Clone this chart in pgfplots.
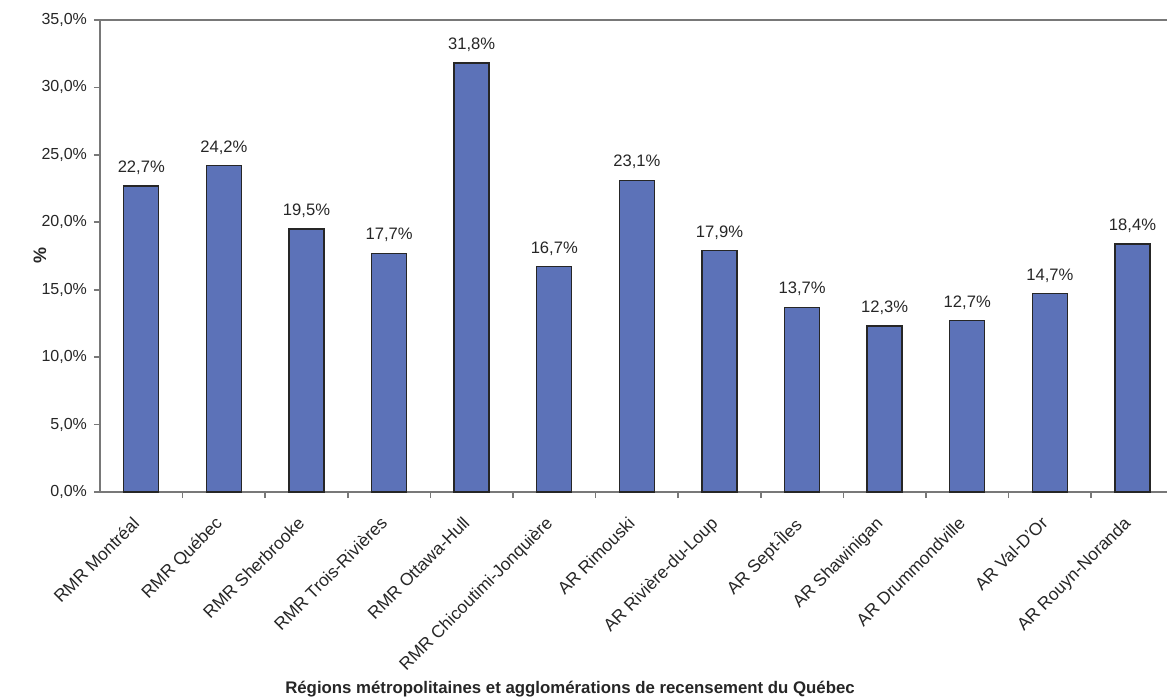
\documentclass[border=0pt]{standalone}
\usepackage{pgfplots}
\pgfplotsset{compat=1.18}
\usepackage{fontspec}
\setmainfont{Liberation Sans}
\definecolor{barblue}{RGB}{92,114,184}
\definecolor{axisgray}{RGB}{120,120,120}
\begin{document}
\begin{tikzpicture}
\useasboundingbox (-50pt,-102pt) rectangle (533.5pt,246pt);
\begin{axis}[
  at={(0,0)}, anchor=south west,
  scale only axis, width=533.5pt, height=236pt,
  xmin=-0.5, xmax=12.418, ymin=0, ymax=35,
  axis lines*=left,
  axis line style={axisgray, line width=0.8pt},
  tick align=outside,
  /pgf/number format/assume math mode=true,
  ytick={0,5,...,35},
  yticklabel={\pgfmathprintnumber[fixed,fixed zerofill,precision=1,use comma]{\tick}\%},
  yticklabel style={font=\fontsize{8}{9}\selectfont, text=black!85},
  major tick length=3pt,
  y tick style={axisgray, line width=0.8pt},
  xtick={0,...,12},
  major x tick style={draw=none},
  minor xtick={0.5,1.5,...,11.5},
  minor x tick style={axisgray, line width=0.8pt},
  minor tick length=3pt,
  xticklabels={RMR Montréal, RMR Québec, RMR Sherbrooke, RMR Trois-Rivières, RMR Ottawa-Hull, RMR Chicoutimi-Jonquière, AR Rimouski, AR Rivière-du-Loup, AR Sept-Îles, AR Shawinigan, AR Drummondville, AR Val-D'Or, AR Rouyn-Noranda},
  xticklabel style={rotate=45, anchor=north east, font=\fontsize{8.7}{10}\selectfont, text=black!85, inner sep=1pt, xshift=-8.5pt, yshift=-1.5pt},
  nodes near coords={\pgfmathprintnumber[fixed,fixed zerofill,precision=1,use comma]{\pgfplotspointmeta}\%},
  nodes near coords style={font=\fontsize{8.3}{9}\selectfont, text=black!85, yshift=2pt},
  clip=false,
]
\addplot[ybar, bar width=17.5pt, fill=barblue, draw=black!85, line width=0.7pt] coordinates {
(0,22.7) (1,24.2) (2,19.5) (3,17.7) (4,31.8) (5,16.7) (6,23.1) (7,17.9) (8,13.7) (9,12.3) (10,12.7) (11,14.7) (12,18.4)};
\draw[axisgray, line width=0.8pt] (rel axis cs:0,1) -- (rel axis cs:1,1);
\end{axis}
\node[font=\bfseries\fontsize{8.4}{9}\selectfont, text=black!85] at (235pt,-98.5pt) {Régions métropolitaines et agglomérations de recensement du Québec};
\node[font=\bfseries\fontsize{9}{10}\selectfont, rotate=90, text=black!85] at (-30pt,118.5pt) {\%};
\end{tikzpicture}
\end{document}
